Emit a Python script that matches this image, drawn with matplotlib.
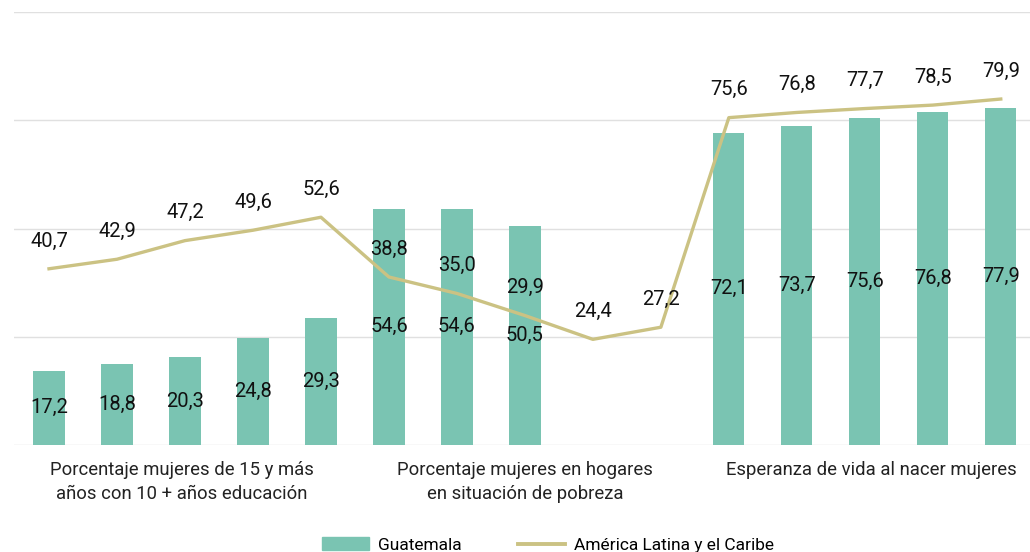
import matplotlib.pyplot as plt
import numpy as np
from matplotlib.lines import Line2D
from matplotlib.patches import Patch

# Datos
guatemala = [17.2, 18.8, 20.3, 24.8, 29.3,
             54.6, 54.6, 50.5, np.nan, np.nan,
             72.1, 73.7, 75.6, 76.8, 77.9]
america_latina = [40.7, 42.9, 47.2, 49.6, 52.6,
                  38.8, 35.0, 29.9, 24.4, 27.2,
                  75.6, 76.8, 77.7, 78.5, 79.9]
categorias = ["Porcentaje mujeres de 15 y más\naños con 10 + años educación",
              "Porcentaje mujeres en hogares\nen situación de pobreza",
              "Esperanza de vida al nacer mujeres"]
posiciones_cat = [1.95, 7, 12.1]

color_barra = '#7AC4B2'
color_linea = '#CBC283'

plt.rcParams['font.family'] = ['Roboto', 'DejaVu Sans']


def fmt(v):
    return f"{v:.1f}".replace('.', ',')


fig = plt.figure(figsize=(10.3, 5.52), dpi=100)
ax = fig.add_axes([14 / 1030, 107 / 552, 1016 / 1030, 433 / 552])

x = np.arange(len(america_latina))

# Barras Guatemala
for xi, v in zip(x, guatemala):
    if np.isnan(v):
        continue
    ax.bar(xi, v, width=0.46, color=color_barra, zorder=2)
    ax.text(xi, v / 2, fmt(v), ha='center', va='center', fontsize=14.5, color='#111111', zorder=4)

# Línea América Latina
ax.plot(x, america_latina, color=color_linea, linewidth=2.4, zorder=3)
for xi, v in zip(x, america_latina):
    ax.annotate(fmt(v), (xi, v), xytext=(0, 20), textcoords='offset points',
                ha='center', va='center', fontsize=14.5, color='#111111', zorder=4)

ax.set_xlim(-0.515, 14.43)
ax.set_ylim(0, 100)
ax.set_yticks([0, 25, 50, 75, 100])
ax.yaxis.grid(True, color='#e0e0e0', linewidth=1)
ax.set_axisbelow(True)
ax.tick_params(left=False, labelleft=False, bottom=False, labelbottom=False)
for s in ax.spines.values():
    s.set_visible(False)

for p, c in zip(posiciones_cat, categorias):
    ax.text(p, -3.6, c, ha='center', va='top', fontsize=13.3, color='#222222',
            linespacing=1.45)

handles = [Patch(color=color_barra, label='Guatemala'),
           Line2D([0], [0], color=color_linea, linewidth=2.8, label='América Latina y el Caribe')]
fig.legend(handles=handles, loc='center', bbox_to_anchor=(548 / 1030, 7 / 552), ncol=2,
           frameon=False, fontsize=12.5, handlelength=2.7, columnspacing=3.3, handletextpad=0.5)

fig.savefig('out.png', dpi=100)
